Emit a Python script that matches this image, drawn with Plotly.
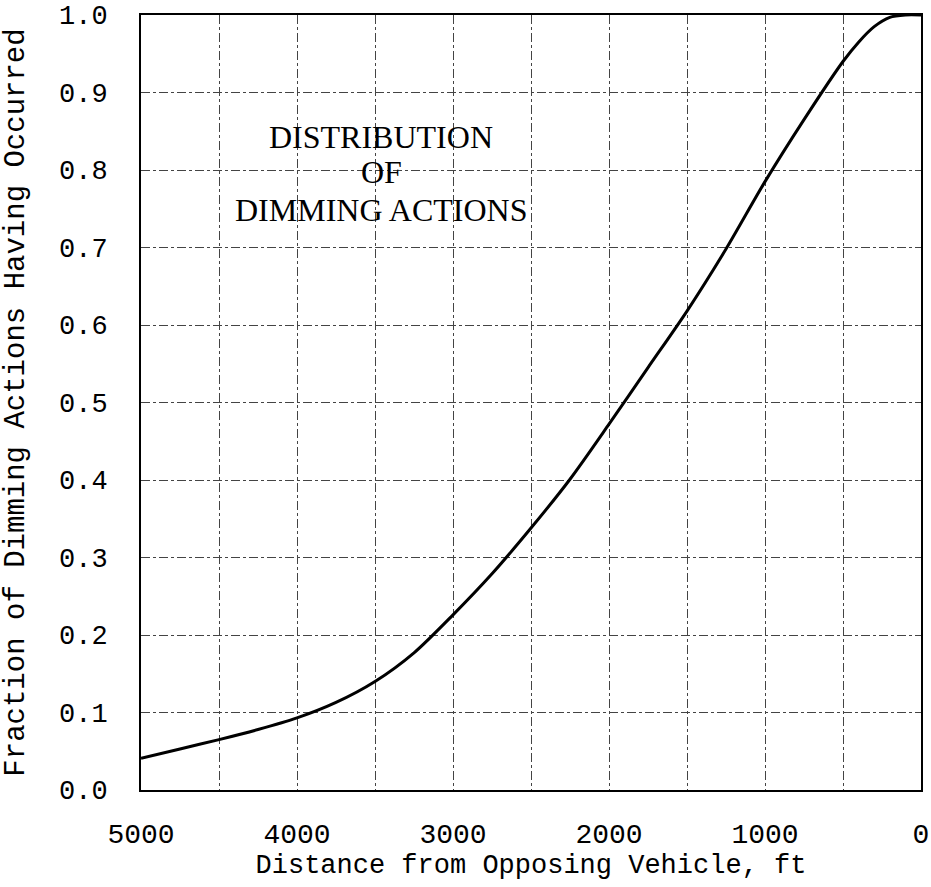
import plotly.graph_objects as go

distance_ft = [5000, 4750, 4500, 4250, 4000, 3750, 3500, 3250, 3000, 2750, 2500,
               2250, 2000, 1750, 1500, 1250, 1000, 750, 500, 400, 300, 200, 100, 0]
fraction = [0.041, 0.053, 0.065, 0.078, 0.093, 0.113, 0.140, 0.177, 0.226, 0.279,
            0.338, 0.401, 0.472, 0.545, 0.618, 0.698, 0.785, 0.865, 0.940, 0.965,
            0.985, 0.997, 1.0, 1.0]

x_tickvals = [5000, 4500, 4000, 3500, 3000, 2500, 2000, 1500, 1000, 500, 0]
x_ticktext = ["5000", "", "4000", "", "3000", "", "2000", "", "1000", "", "0"]
y_tickvals = [0.0, 0.1, 0.2, 0.3, 0.4, 0.5, 0.6, 0.7, 0.8, 0.9, 1.0]
y_ticktext = ["0.0", "0.1", "0.2", "0.3", "0.4", "0.5", "0.6", "0.7",
              "0.8", "0.9", "1.0"]

label_lines = ["DISTRIBUTION", "OF", "DIMMING ACTIONS"]
label_y = [0.843, 0.798, 0.748]

mono = "Liberation Mono, Courier New, monospace"
serif = "Liberation Serif, DejaVu Serif, serif"

fig = go.Figure()
fig.add_trace(go.Scatter(
    x=distance_ft, y=fraction, mode="lines",
    line=dict(color="black", width=3, shape="spline", smoothing=0.8),
    showlegend=False, hoverinfo="skip"))

for txt, yy in zip(label_lines, label_y):
    fig.add_annotation(
        x=3460, y=yy, xref="x", yref="y", text=txt,
        showarrow=False, align="center",
        font=dict(family=serif, size=32, color="black"))

fig.update_layout(
    width=931, height=887,
    margin=dict(l=141, r=10, t=15, b=97),
    paper_bgcolor="white", plot_bgcolor="white",
    xaxis=dict(
        range=[5000, 0], tickvals=x_tickvals, ticktext=x_ticktext,
        showgrid=True, gridcolor="#444", gridwidth=1, griddash="dashdot",
        showline=True, linecolor="black", linewidth=2, mirror=True,
        ticks="", ticklabelstandoff=17, zeroline=False, automargin=False,
        tickfont=dict(family=mono, size=28, color="black"),
        title=dict(text="Distance from Opposing Vehicle, ft", standoff=0,
                   font=dict(family=mono, size=27, color="black"))),
    yaxis=dict(
        range=[0, 1.0], tickvals=y_tickvals, ticktext=y_ticktext,
        showgrid=True, gridcolor="#444", gridwidth=1, griddash="dashdot",
        showline=True, linecolor="black", linewidth=2, mirror=True,
        ticks="", ticklabelstandoff=26, zeroline=False, automargin=False,
        tickfont=dict(family=mono, size=27, color="black"),
        title=dict(text="Fraction of Dimming Actions Having Occurred", standoff=28,
                   font=dict(family=mono, size=29, color="black"))),
)

fig.write_html("out.html")
